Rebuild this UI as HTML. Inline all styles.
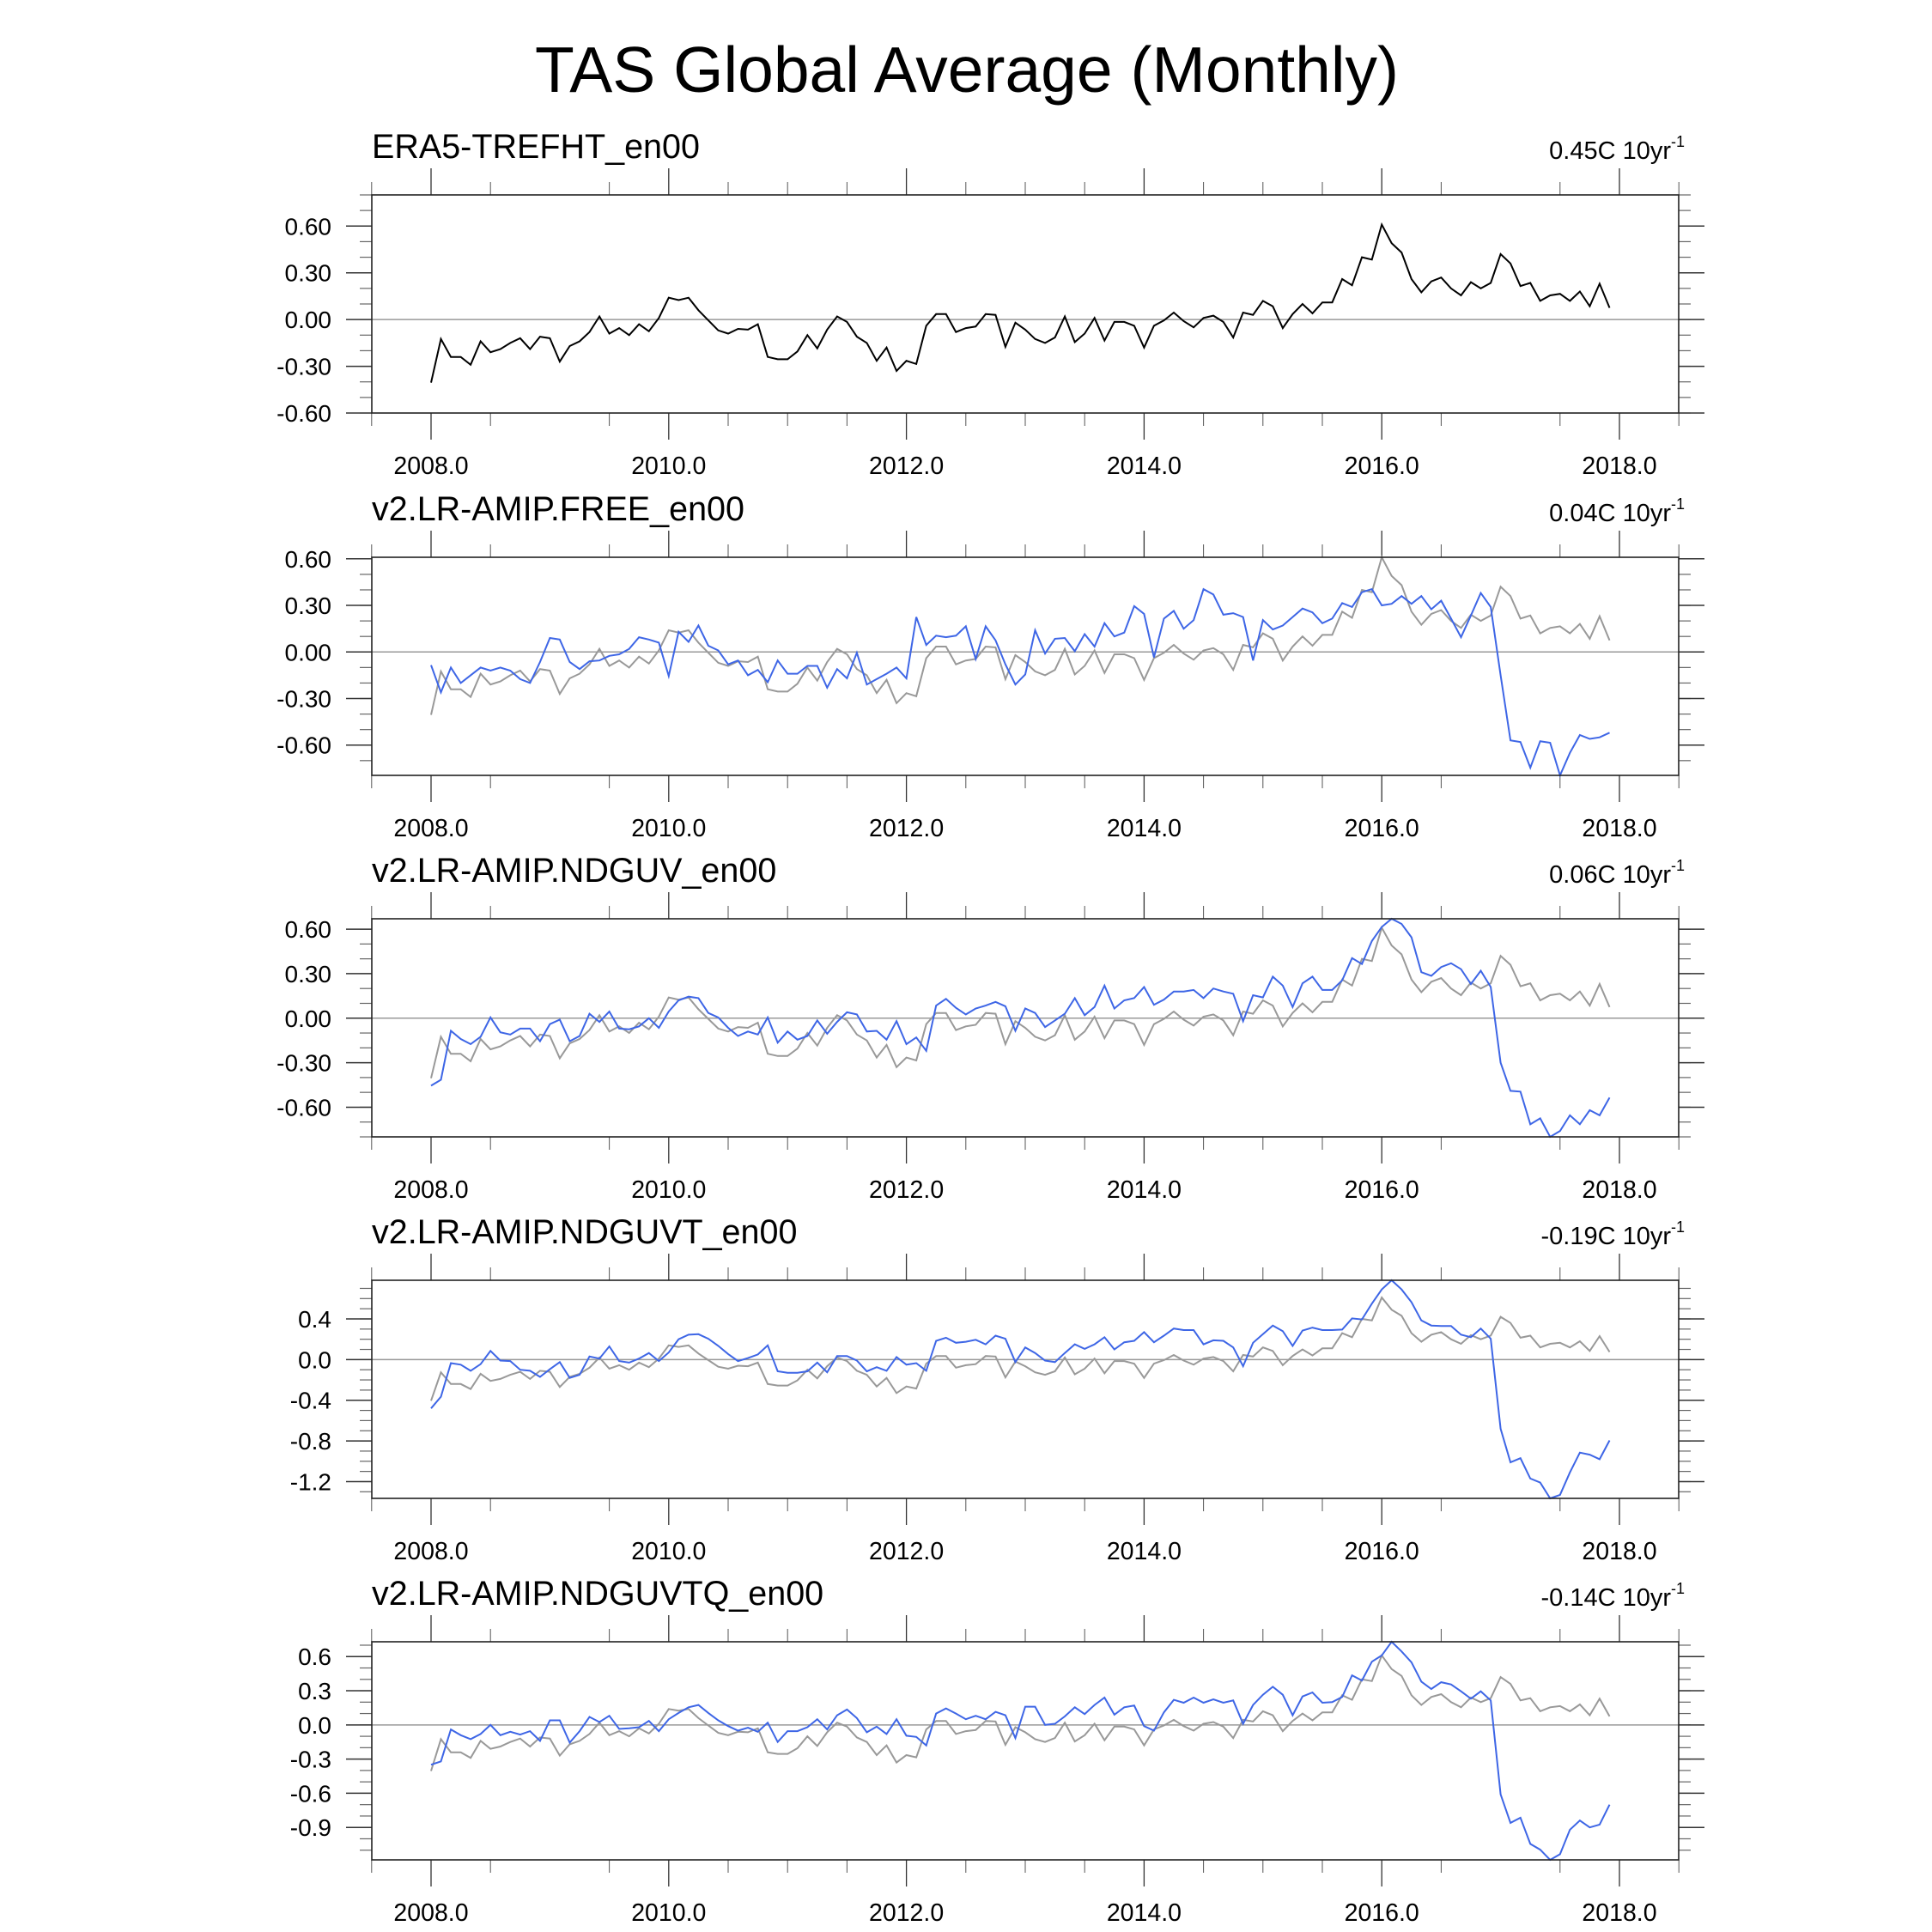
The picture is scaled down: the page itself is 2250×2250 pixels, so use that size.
<!DOCTYPE html>
<html><head><meta charset="utf-8">
<style>
html,body{margin:0;padding:0;background:#fff;}
svg{display:block;font-family:"Liberation Sans",Arial,sans-serif;}
</style></head>
<body>
<svg id="chart" width="2250" height="2250" viewBox="0 0 2250 2250" xmlns="http://www.w3.org/2000/svg">
<rect width="2250" height="2250" fill="#fff"/>
<text x="1126" y="107" font-size="75" text-anchor="middle">TAS Global Average (Monthly)</text>
</svg>
<script>
const era5 = [-0.405,-0.125,-0.24,-0.24,-0.29,-0.14,-0.21,-0.19,-0.15,-0.12,-0.19,-0.11,
-0.12,-0.27,-0.17,-0.14,-0.08,0.02,-0.09,-0.055,-0.10,-0.03,-0.075,0.01,
0.14,0.125,0.14,0.06,-0.005,-0.07,-0.09,-0.06,-0.065,-0.03,-0.24,-0.255,
-0.255,-0.205,-0.10,-0.185,-0.065,0.02,-0.015,-0.11,-0.15,-0.265,-0.18,-0.33,
-0.265,-0.285,-0.04,0.035,0.035,-0.08,-0.055,-0.045,0.035,0.03,-0.175,-0.02,
-0.065,-0.125,-0.15,-0.115,0.02,-0.145,-0.09,0.01,-0.135,-0.015,-0.015,-0.04,
-0.18,-0.04,-0.005,0.045,-0.01,-0.05,0.01,0.025,-0.015,-0.115,0.045,0.03,
0.12,0.085,-0.055,0.035,0.10,0.04,0.11,0.11,0.26,0.22,0.40,0.385,
0.61,0.49,0.43,0.26,0.175,0.245,0.27,0.20,0.155,0.24,0.20,0.235,
0.42,0.36,0.215,0.235,0.12,0.155,0.165,0.12,0.18,0.085,0.23,0.075];
const free = [-0.085,-0.26,-0.10,-0.20,-0.15,-0.10,-0.12,-0.10,-0.12,-0.175,-0.20,-0.065,
0.09,0.08,-0.065,-0.11,-0.06,-0.055,-0.025,-0.015,0.02,0.095,0.08,0.06,
-0.155,0.13,0.065,0.17,0.04,0.01,-0.08,-0.055,-0.15,-0.115,-0.195,-0.055,
-0.14,-0.14,-0.09,-0.09,-0.23,-0.11,-0.17,-0.005,-0.21,-0.175,-0.14,-0.10,
-0.17,0.225,0.045,0.105,0.095,0.105,0.165,-0.045,0.165,0.075,-0.08,-0.21,
-0.145,0.14,-0.01,0.085,0.09,0.005,0.115,0.035,0.185,0.10,0.125,0.295,
0.245,-0.035,0.215,0.265,0.15,0.205,0.405,0.37,0.24,0.25,0.225,-0.055,
0.205,0.145,0.17,0.225,0.28,0.255,0.185,0.215,0.315,0.29,0.385,0.405,
0.30,0.31,0.36,0.31,0.36,0.275,0.33,0.215,0.095,0.235,0.38,0.29,
-0.15,-0.57,-0.58,-0.745,-0.575,-0.585,-0.795,-0.65,-0.535,-0.56,-0.55,-0.52];
const ndguv = [-0.455,-0.415,-0.085,-0.14,-0.175,-0.125,0.005,-0.095,-0.11,-0.07,-0.07,-0.155,
-0.04,-0.01,-0.155,-0.12,0.03,-0.025,0.045,-0.07,-0.075,-0.055,0.0,-0.065,
0.045,0.12,0.145,0.135,0.035,0.005,-0.065,-0.12,-0.09,-0.11,0.005,-0.165,
-0.09,-0.145,-0.12,-0.015,-0.105,-0.025,0.04,0.025,-0.09,-0.085,-0.145,-0.02,
-0.175,-0.13,-0.22,0.085,0.13,0.07,0.025,0.065,0.085,0.11,0.08,-0.085,
0.065,0.035,-0.06,-0.015,0.03,0.135,0.02,0.075,0.22,0.065,0.12,0.135,
0.21,0.09,0.125,0.18,0.18,0.19,0.135,0.20,0.18,0.165,-0.02,0.155,
0.14,0.28,0.22,0.075,0.235,0.28,0.19,0.19,0.255,0.405,0.365,0.52,
0.615,0.67,0.635,0.545,0.31,0.285,0.345,0.37,0.33,0.23,0.32,0.21,
-0.30,-0.49,-0.495,-0.715,-0.675,-0.80,-0.76,-0.655,-0.715,-0.62,-0.655,-0.535];
const ndguvt = [-0.48,-0.365,-0.035,-0.05,-0.11,-0.045,0.085,-0.01,-0.015,-0.10,-0.11,-0.17,
-0.095,-0.025,-0.18,-0.15,0.03,0.01,0.13,-0.015,-0.03,0.01,0.065,-0.015,
0.07,0.20,0.245,0.25,0.205,0.135,0.055,-0.015,0.015,0.05,0.14,-0.115,
-0.13,-0.13,-0.115,-0.03,-0.125,0.035,0.035,-0.01,-0.115,-0.075,-0.11,0.025,
-0.05,-0.035,-0.11,0.185,0.215,0.165,0.175,0.195,0.15,0.235,0.205,-0.025,
0.12,0.065,-0.01,-0.025,0.065,0.15,0.105,0.15,0.22,0.10,0.17,0.185,
0.27,0.17,0.235,0.305,0.29,0.29,0.15,0.19,0.185,0.12,-0.065,0.165,
0.25,0.335,0.28,0.135,0.285,0.315,0.29,0.29,0.295,0.405,0.395,0.55,
0.69,0.78,0.69,0.565,0.385,0.335,0.33,0.33,0.245,0.22,0.305,0.205,
-0.68,-1.01,-0.97,-1.17,-1.21,-1.365,-1.33,-1.11,-0.915,-0.935,-0.98,-0.795];
const ndguvtq = [-0.35,-0.32,-0.04,-0.09,-0.125,-0.08,0.0,-0.09,-0.06,-0.085,-0.055,-0.14,
0.04,0.04,-0.155,-0.055,0.07,0.025,0.08,-0.035,-0.03,-0.02,0.035,-0.055,
0.05,0.105,0.155,0.175,0.105,0.04,-0.01,-0.05,-0.025,-0.06,0.02,-0.15,
-0.055,-0.055,-0.02,0.05,-0.04,0.085,0.135,0.06,-0.065,-0.015,-0.08,0.05,
-0.095,-0.105,-0.18,0.10,0.145,0.10,0.05,0.08,0.05,0.115,0.085,-0.115,
0.16,0.16,0.0,0.01,0.075,0.155,0.095,0.175,0.24,0.09,0.155,0.17,
-0.01,-0.05,0.11,0.22,0.195,0.24,0.195,0.225,0.195,0.215,0.01,0.175,
0.265,0.335,0.265,0.085,0.25,0.285,0.195,0.20,0.245,0.435,0.39,0.555,
0.61,0.73,0.645,0.55,0.38,0.315,0.375,0.355,0.295,0.23,0.295,0.215,
-0.61,-0.86,-0.815,-1.045,-1.095,-1.185,-1.135,-0.92,-0.84,-0.90,-0.875,-0.70];
const panelTitles = ["ERA5-TREFHT_en00","v2.LR-AMIP.FREE_en00","v2.LR-AMIP.NDGUV_en00","v2.LR-AMIP.NDGUVT_en00","v2.LR-AMIP.NDGUVTQ_en00"];
const trendLabels = ["0.45C 10yr","0.04C 10yr","0.06C 10yr","-0.19C 10yr","-0.14C 10yr"];
const xMajorTicks = [2008,2010,2012,2014,2016,2018];
const xMinorTicks = [2007.5,2008.5,2009.5,2010.5,2011,2011.5,2012.5,2013,2013.5,2014.5,2015,2015.5,2016.5,2017.5,2018.5];
const yMajor1 = [-0.6,-0.3,0,0.3,0.6];
const yMajor4 = [-1.2,-0.8,-0.4,0,0.4];
const yMajor5 = [-0.9,-0.6,-0.3,0,0.3,0.6];

const svg = document.getElementById('chart');
const NS = 'http://www.w3.org/2000/svg';
const L = 433, R = 1955, H = 254;
const tops = [227,649,1070,1491,1912];
function xs(t){ return 502 + (t-2008)*138.4; }
function mk(tag, attrs, parent){
  const e = document.createElementNS(NS, tag);
  for (const k in attrs) e.setAttribute(k, attrs[k]);
  (parent||svg).appendChild(e); return e;
}
const panels = [
  {series: era5, blue: null, yticks: yMajor1, dec: 2, fixed: [-0.6,0.8]},
  {series: era5, blue: free, yticks: yMajor1, dec: 2},
  {series: era5, blue: ndguv, yticks: yMajor1, dec: 2},
  {series: era5, blue: ndguvt, yticks: yMajor4, dec: 1},
  {series: era5, blue: ndguvtq, yticks: yMajor5, dec: 1}
];
panels.forEach((p, k) => {
  const top = tops[k], bot = top + H;
  let lo, hi;
  if (p.fixed) { lo = p.fixed[0]; hi = p.fixed[1]; }
  else { const all = p.series.concat(p.blue); lo = Math.min(...all); hi = Math.max(...all); }
  const ys = v => bot - (v - lo) / (hi - lo) * H;
  const g = mk('g', {});
  
  
  const t1 = mk('text', {x: L, y: top-43, 'font-size': 39.5}, g);
  t1.textContent = panelTitles[k];
  
  
  const t2 = mk('text', {x: R-9, y: top-42, 'font-size': 29, 'text-anchor': 'end'}, g);
  t2.textContent = trendLabels[k];
  
  
  const sup = mk('text', {x: R-9, y: top-56, 'font-size': 18}, g);
  sup.textContent = '-1';
  
  
  xMajorTicks.forEach(t => {
    const x = xs(t);
    mk('line', {x1:x, x2:x, y1:top-31, y2:top, stroke:'#333', 'stroke-width':1.3}, g);
    mk('line', {x1:x, x2:x, y1:bot, y2:bot+31, stroke:'#333', 'stroke-width':1.3}, g);
    const lb = mk('text', {x:x, y:bot+71, 'font-size':28.5, 'text-anchor':'middle'}, g);
    lb.textContent = t.toFixed(1);
    
    
  });
  xMinorTicks.forEach(t => {
    const x = xs(t);
    mk('line', {x1:x, x2:x, y1:top-15, y2:top, stroke:'#555', 'stroke-width':1}, g);
    mk('line', {x1:x, x2:x, y1:bot, y2:bot+15, stroke:'#555', 'stroke-width':1}, g);
  });
  for (let v = Math.ceil(lo*10-1e-6); v <= Math.floor(hi*10+1e-6); v++) {
    const y = ys(v/10);
    mk('line', {x1:L-14, x2:L, y1:y, y2:y, stroke:'#666', 'stroke-width':1.2}, g);
    mk('line', {x1:R, x2:R+14, y1:y, y2:y, stroke:'#666', 'stroke-width':1.2}, g);
  }
  p.yticks.forEach(v => {
    if (v < lo - 1e-6 || v > hi + 1e-6) return;
    const y = ys(v);
    mk('line', {x1:L-30, x2:L, y1:y, y2:y, stroke:'#333', 'stroke-width':1.5}, g);
    mk('line', {x1:R, x2:R+30, y1:y, y2:y, stroke:'#333', 'stroke-width':1.5}, g);
    const lb = mk('text', {x:386, y:y+10, 'font-size':28, 'text-anchor':'end'}, g);
    lb.textContent = v.toFixed(p.dec);
    
    
  });
  const zl = mk('line', {x1:L, x2:R, y1:ys(0), y2:ys(0), stroke:'#999', 'stroke-width':1.5}, g);
  
  
  const pts = arr => arr.map((v,i) => xs(2008 + i/12).toFixed(1) + ',' + ys(v).toFixed(1)).join(' ');
  const ref = mk('polyline', {points: pts(p.series), fill:'none', stroke: p.blue ? '#999' : '#000', 'stroke-width': 2}, g);
  
  
  if (p.blue) {
    const bl = mk('polyline', {points: pts(p.blue), fill:'none', stroke:'#3e66e6', 'stroke-width': 2}, g);
    
    
  }
  const fr = mk('rect', {x:L, y:top, width:R-L, height:H, fill:'none', stroke:'#222', 'stroke-width':1.6}, g);
  
  
});
</script>
</body></html>
